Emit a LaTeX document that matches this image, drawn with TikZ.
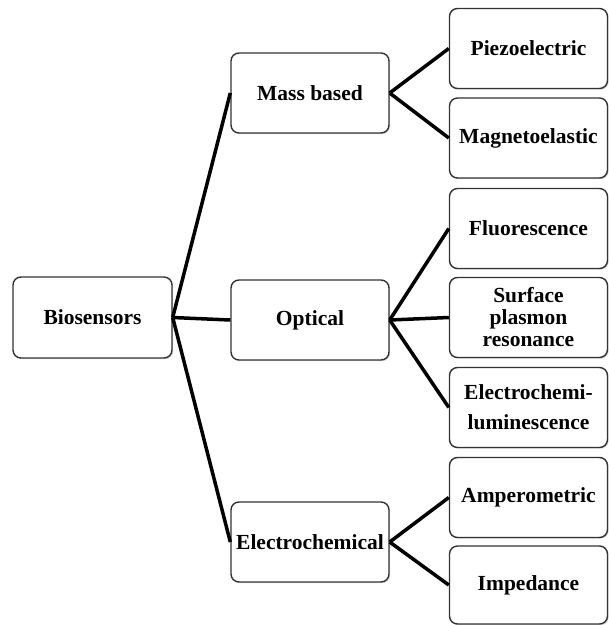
\documentclass[tikz,border=0pt]{standalone}
\usepackage{fontspec}
\setmainfont{Liberation Serif}
\usetikzlibrary{shadows}
\tikzset{
  box/.style={draw=black!80, line width=1.4pt, rounded corners=8pt, fill=white,
    minimum width=158pt, minimum height=80pt, inner sep=1pt, align=center,
    font=\fontsize{21.5}{22}\selectfont\bfseries,
    drop shadow={opacity=0.3, shadow xshift=1.2pt, shadow yshift=-1.2pt}},
  link/.style={line width=3.5pt, black}
}
\begin{document}
\begin{tikzpicture}[x=1pt,y=-1pt]
\useasboundingbox (0,0) rectangle (609,625);
\node[box, minimum width=159pt, minimum height=81pt] (bio) at (92.5,317.5) {Biosensors};
\node[box] (mass) at (310,93) {Mass based};
\node[box] (opt) at (310,320) {Optical};
\node[box] (ec) at (310,542) {Electrochemical};
\node[box] (piezo) at (528.5,48.5) {Piezoelectric};
\node[box] (magn) at (528.5,138) {Magnetoelastic};
\node[box] (fluo) at (528.5,228.5) {Fluorescence};
\node[box] (spr) at (528.5,317.5) {Surface\\plasmon\\resonance};
\node[box, font=\fontsize{21.5}{30}\selectfont\bfseries] (ecl) at (528.5,407.5) {Electrochemi-\\luminescence};
\node[box] (amp) at (528.5,497.5) {Amperometric};
\node[box, minimum height=78pt] (imp) at (528.5,585) {Impedance};
\draw[link] (bio.east) -- (mass.west);
\draw[link] (bio.east) -- (opt.west);
\draw[link] (bio.east) -- (ec.west);
\draw[link] (mass.east) -- (piezo.west);
\draw[link] (mass.east) -- (magn.west);
\draw[link] (opt.east) -- (fluo.west);
\draw[link] (opt.east) -- (spr.west);
\draw[link] (opt.east) -- (ecl.west);
\draw[link] (ec.east) -- (amp.west);
\draw[link] (ec.east) -- (imp.west);
\end{tikzpicture}
\end{document}
